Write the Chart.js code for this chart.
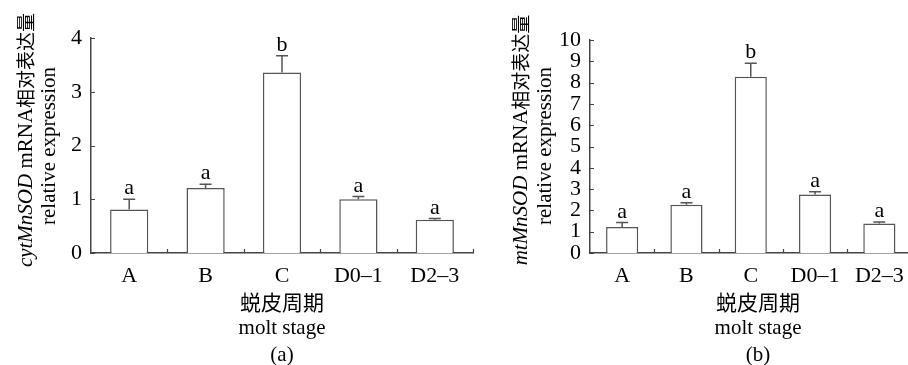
<!DOCTYPE html>
<html>
<head>
<meta charset="utf-8">
<script src="https://cdn.jsdelivr.net/npm/chart.js@4.4.1/dist/chart.umd.min.js"></script>
<style>
  html, body { margin: 0; padding: 0; background: #fff; overflow: hidden; width: 908px; height: 365px; }
  canvas { position: absolute; top: 0; }
  #cyt-chart { left: 0; }
  #mt-chart { left: 480px; }
</style>
</head>
<body>
<canvas id="cyt-chart" width="480" height="365"></canvas>
<canvas id="mt-chart" width="434" height="365"></canvas>
<script>
// ---- data ----
const stages = ['A', 'B', 'C', 'D0–1', 'D2–3'];

const cytValues = [0.81, 1.21, 3.36, 1.00, 0.62];
const cytSD = [0.19, 0.07, 0.31, 0.05, 0.02];
const cytLetters = ['a', 'a', 'b', 'a', 'a'];
const cytTicks = [0, 1, 2, 3, 4];

const mtValues = [1.22, 2.26, 8.27, 2.75, 1.39];
const mtSD = [0.21, 0.10, 0.64, 0.12, 0.06];
const mtLetters = ['a', 'a', 'b', 'a', 'a'];
const mtTicks = [0, 1, 2, 3, 4, 5, 6, 7, 8, 9, 10];

const yTitleTail = ' mRNA';
const yTitleCJK = '相对表达量';
const yTitleEN = 'relative expression';
const xTitleCN = '蜕皮周期';
const xTitleEN = 'molt stage';

const SERIF = '"Liberation Serif", "Times New Roman", serif';
const CJK = '"Noto Sans CJK SC", sans-serif';

Chart.defaults.font.family = SERIF;
Chart.defaults.font.size = 22;
Chart.defaults.color = '#000';

// error bars + significance letters
const errorBars = {
  id: 'errorBars',
  afterDatasetsDraw(chart, args, o) {
    const ctx = chart.ctx, y = chart.scales.y;
    const meta = chart.getDatasetMeta(0);
    ctx.save();
    ctx.strokeStyle = '#555';
    ctx.lineWidth = 1.5;
    ctx.fillStyle = '#000';
    ctx.font = '22px ' + SERIF;
    ctx.textAlign = 'center';
    ctx.textBaseline = 'alphabetic';
    meta.data.forEach((bar, i) => {
      const top = y.getPixelForValue(o.values[i] + o.sd[i]);
      ctx.beginPath();
      ctx.moveTo(bar.x, bar.y);
      ctx.lineTo(bar.x, top);
      ctx.moveTo(bar.x - 6, top);
      ctx.lineTo(bar.x + 6, top);
      ctx.stroke();
      ctx.fillText(o.letters[i], bar.x, top - 5);
    });
    ctx.restore();
  }
};

// short inward tick marks on both axes
const innerTicks = {
  id: 'innerTicks',
  afterDraw(chart) {
    const ctx = chart.ctx, x = chart.scales.x, y = chart.scales.y;
    const a = chart.chartArea;
    ctx.save();
    ctx.strokeStyle = '#444';
    ctx.lineWidth = 1.2;
    ctx.beginPath();
    y.ticks.forEach(t => {
      const py = Math.round(y.getPixelForValue(t.value)) + 0.5;
      ctx.moveTo(a.left, py);
      ctx.lineTo(a.left + 4, py);
    });
    for (let i = 1; i <= stages.length; i++) {
      const px = Math.round(x.getPixelForValue(i - 0.5)) + 0.5;
      ctx.moveTo(px, a.bottom);
      ctx.lineTo(px, a.bottom - 4);
    }
    ctx.stroke();
    ctx.restore();
  }
};

// axis titles and panel label
const titles = {
  id: 'titles',
  afterDraw(chart, args, o) {
    const ctx = chart.ctx;
    ctx.save();
    ctx.fillStyle = '#000';

    // rotated y title, line 1 (mixed fonts)
    const segs = [
      { text: o.gene, font: 'italic 21px ' + SERIF },
      { text: yTitleTail, font: '21px ' + SERIF },
      { text: yTitleCJK, font: '19px ' + CJK }
    ];
    let total = 0;
    segs.forEach(s => { ctx.font = s.font; s.w = ctx.measureText(s.text).width; total += s.w; });
    ctx.save();
    ctx.translate(o.line1X, o.line1Y);
    ctx.rotate(-Math.PI / 2);
    ctx.textAlign = 'left';
    ctx.textBaseline = 'middle';
    let pos = -total / 2;
    segs.forEach(s => { ctx.font = s.font; ctx.fillText(s.text, pos, 0); pos += s.w; });
    ctx.restore();

    // rotated y title, line 2
    ctx.save();
    ctx.translate(o.line2X, o.line2Y);
    ctx.rotate(-Math.PI / 2);
    ctx.textAlign = 'center';
    ctx.textBaseline = 'middle';
    ctx.font = '21px ' + SERIF;
    ctx.fillText(yTitleEN, 0, 0);
    ctx.restore();

    // x titles
    ctx.textAlign = 'center';
    ctx.textBaseline = 'middle';
    ctx.font = '21px ' + CJK;
    ctx.fillText(xTitleCN, o.xCenter, 302);
    ctx.font = '21px ' + SERIF;
    ctx.fillText(xTitleEN, o.xCenter, 328);
    ctx.fillText(o.panel, o.xCenter, 355);
    ctx.restore();
  }
};

function makeChart(id, cfg) {
  const ctx = document.getElementById(id).getContext('2d');
  return new Chart(ctx, {
    type: 'bar',
    data: {
      labels: stages,
      datasets: [{
        data: cfg.values,
        backgroundColor: '#ffffff',
        borderColor: '#555',
        borderWidth: 1.5,
        barPercentage: 0.5,
        categoryPercentage: 1
      }]
    },
    options: {
      responsive: false,
      animation: false,
      layout: { padding: { left: 0, top: cfg.top, right: cfg.right, bottom: 0 } },
      plugins: {
        legend: { display: false },
        tooltip: { enabled: false },
        errorBars: { values: cfg.values, sd: cfg.sd, letters: cfg.letters },
        titles: cfg.titles
      },
      scales: {
        x: {
          grid: { display: false, drawTicks: false },
          border: { display: true, color: '#444', width: 1.5 },
          ticks: { padding: 10, color: '#000', autoSkip: false, maxRotation: 0 },
          afterFit: s => { s.height = 112; }
        },
        y: {
          min: 0,
          max: cfg.ticks[cfg.ticks.length - 1],
          grid: { display: false, drawTicks: false },
          border: { display: true, color: '#444', width: 1.5 },
          afterBuildTicks: s => { s.ticks = cfg.ticks.map(v => ({ value: v })); },
          ticks: { padding: 9, color: '#000', autoSkip: false },
          afterFit: s => { s.width = cfg.yWidth; }
        }
      }
    },
    plugins: [errorBars, innerTicks, titles]
  });
}

makeChart('cyt-chart', {
  values: cytValues, sd: cytSD, letters: cytLetters, ticks: cytTicks,
  top: 38, right: 7, yWidth: 91,
  titles: { gene: 'cytMnSOD', panel: '(a)', line1X: 26, line1Y: 140, line2X: 49, line2Y: 146, xCenter: 282 }
});

makeChart('mt-chart', {
  values: mtValues, sd: mtSD, letters: mtLetters, ticks: mtTicks,
  top: 40, right: 2, yWidth: 110,
  titles: { gene: 'mtMnSOD', panel: '(b)', line1X: 41, line1Y: 140, line2X: 65, line2Y: 146, xCenter: 278 }
});
</script>
</body>
</html>
